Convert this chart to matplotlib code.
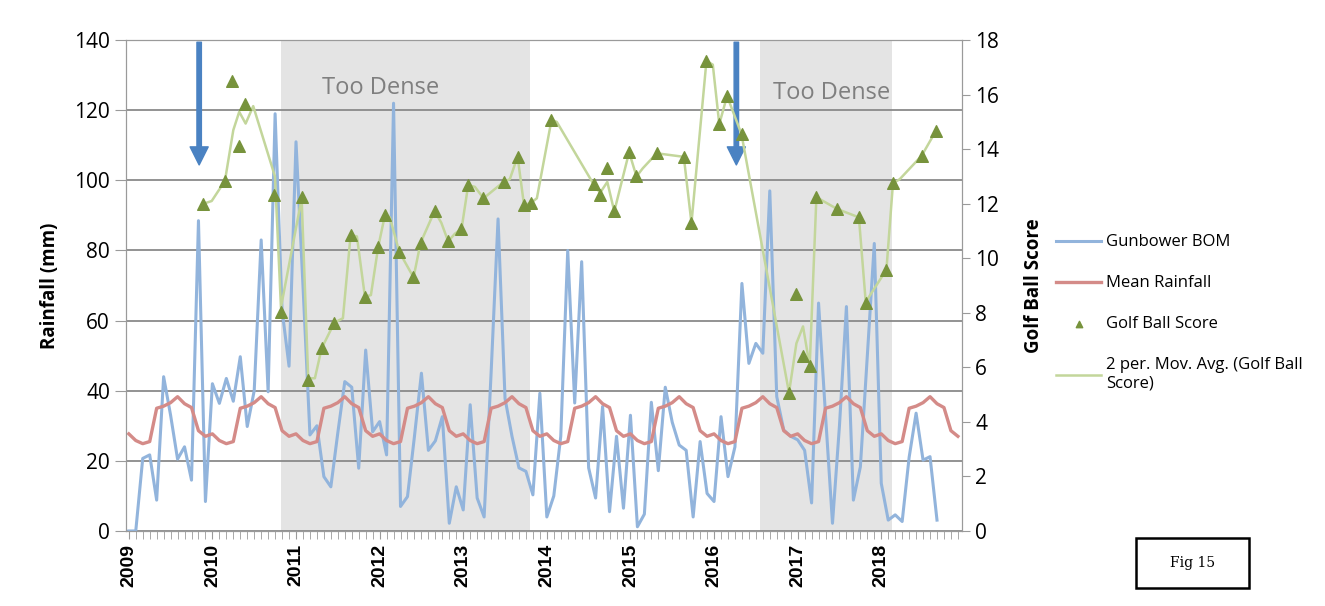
import numpy as np
import matplotlib.pyplot as plt
from matplotlib.patches import Rectangle

plt.rcParams['font.family'] = ['Open Sans', 'DejaVu Sans']

# x positions are months since Jan 2009 (0 = Jan 2009)
years = [str(y) for y in range(2009, 2019)]

# monthly rainfall, Gunbower BOM (mm), Jan 2009 .. Sep 2018
gunbower_bom = [
    0, 0, 20.7, 21.7, 8.8, 44, 33, 20.5, 24, 14.5, 88.5, 8.4,
    42, 36.4, 43.5, 37, 49.7, 29.8, 40, 83, 39.7, 119, 63, 47,
    111, 70, 27.4, 30, 15.5, 12.6, 28, 42.6, 41, 17.9, 51.6, 28.3,
    31.2, 21.7, 122, 7, 9.8, 27, 45, 23, 25.7, 32.6, 2.2, 12.6,
    6, 36, 9.4, 4, 45, 89, 37.8, 27, 18, 17, 10.3, 39.3,
    4, 10, 27, 80, 36.5, 76.8, 18, 9.4, 35.5, 5.5, 27, 6.5,
    33, 1.2, 4.8, 36.7, 17.2, 41, 31, 24.5, 23, 4, 25.5, 10.7,
    8.4, 32.6, 15.5, 24, 70.6, 47.8, 53.5, 50.7, 97, 38.3, 28.8, 27,
    26, 23, 8, 65, 33, 2.2, 30, 64, 8.8, 18.3, 50, 82,
    13.6, 3.1, 4.6, 2.7, 21, 33.6, 20.2, 21.2, 3.1,
]

# long-term mean rainfall by calendar month (mm), Jan..Dec
mean_rain_month = [27.7, 25.8, 24.9, 25.5, 35.0, 35.6, 36.6, 38.3, 36.3, 35.2, 28.6, 27.0]

# golf ball score survey dates (months since Jan 2009) and scores
golf_x = [10.7, 13.8, 14.85, 15.8, 16.75, 20.9, 21.85, 24.8, 25.75, 27.7,
          29.5, 31.85, 33.9, 35.8, 36.75, 38.8, 40.85, 41.9, 43.9, 45.85,
          47.75, 48.7, 50.9, 53.8, 55.8, 56.75, 57.7, 60.65, 66.7, 67.65,
          68.7, 69.7, 71.8, 72.85, 75.8, 79.65, 80.75, 82.9, 84.75, 85.85,
          87.95, 94.75, 95.8, 96.75, 97.75, 98.7, 101.65, 104.8, 105.75, 108.75,
          109.7, 113.8, 115.85]
golf_score = [12.0, 12.85, 16.5, 14.1, 15.67, 12.32, 8.04, 12.23, 5.53, 6.7,
              7.64, 10.85, 8.59, 10.42, 11.58, 10.24, 9.3, 10.57, 11.73, 10.62,
              11.08, 12.68, 12.2, 12.8, 13.73, 11.95, 12.03, 15.07, 12.72, 12.33,
              13.32, 11.72, 13.89, 13.0, 13.85, 13.72, 11.29, 17.24, 14.92, 15.95,
              14.56, 5.07, 8.69, 6.42, 6.05, 12.24, 11.81, 11.5, 8.37, 9.58,
              12.75, 13.76, 14.67]

# 2 period moving average trendline as drawn
golf_ma_x = [10.7, 11.9, 13.8, 15.0, 15.85, 16.77, 17.86, 20.98, 21.84, 24.81,
             25.75, 26.71, 27.68, 29.51, 30.73, 31.84, 32.74, 33.89, 34.75, 35.8,
             36.76, 37.47, 38.81, 40.87, 41.88, 43.89, 44.86, 45.84, 46.8, 47.76,
             48.71, 49.67, 50.92, 53.79, 54.69, 55.8, 56.73, 57.7, 58.57, 60.67,
             61.43, 66.7, 67.65, 68.68, 69.68, 71.81, 72.87, 73.77, 75.78, 79.66,
             80.76, 82.91, 83.82, 84.75, 85.87, 87.93, 94.76, 95.82, 96.77, 97.73,
             98.69, 101.65, 104.79, 105.77, 108.74, 109.68, 110.65, 113.8, 115.84]
golf_ma_y = [12.0, 12.1, 12.84, 14.7, 15.37, 14.94, 15.58, 13.0, 8.2, 12.2,
             5.6, 5.6, 6.7, 7.64, 7.8, 10.85, 10.8, 8.59, 8.65, 10.42,
             11.58, 11.5, 10.24, 9.3, 10.57, 11.73, 11.3, 10.62, 10.9, 11.08,
             12.68, 12.62, 12.2, 12.8, 12.9, 13.73, 11.95, 12.03, 12.2, 15.07,
             15.0, 12.72, 12.4, 12.8, 11.72, 13.89, 13.0, 13.3, 13.85, 13.72,
             11.29, 17.24, 17.1, 14.92, 15.95, 14.56, 5.07, 6.88, 7.5, 6.05,
             12.24, 11.81, 11.5, 8.4, 9.58, 12.75, 12.9, 13.76, 14.67]

dense_periods = [(21.8, 57.6), (90.6, 109.5)]
arrow_months = [10.1, 87.2]

months = np.arange(120)
mean_rain = np.tile(mean_rain_month, 10)

fig = plt.figure(figsize=(13.25, 6.06), dpi=100)
ax = fig.add_axes([0.0951, 0.1238, 0.631, 0.810])

for a, b in dense_periods:
    ax.axvspan(a, b, color='#e4e4e4', zorder=0, lw=0)

l1, = ax.plot(months[:len(gunbower_bom)], gunbower_bom, color='#92b4dc', lw=2.2,
              label='Gunbower BOM', zorder=3)
l2, = ax.plot(months, mean_rain, color='#d48b88', lw=2.4, label='Mean Rainfall', zorder=3)

ax.set_xlim(-0.4, 119.6)
ax.set_ylim(0, 140)
ax.set_yticks(range(0, 141, 20))
ax.yaxis.grid(True, color='#8a8a8a', lw=1.3)
ax.set_axisbelow(True)
ax.set_xticks(months[::12])
ax.set_xticklabels(years, rotation=90, fontsize=14, fontweight='bold',
                   family='Liberation Sans')
ax.set_xticks(months, minor=True)
ax.tick_params(axis='x', which='both', length=6, color='#9a9a9a', direction='out')
ax.tick_params(axis='y', length=8, color='#9a9a9a', labelsize=15)
ax.set_ylabel('Rainfall (mm)', fontsize=13.5, fontweight='bold', labelpad=10)
for s in ['left', 'bottom', 'top', 'right']:
    ax.spines[s].set_color('#9a9a9a')

for m in arrow_months:
    ax.annotate('', xy=(m, 104.4), xytext=(m, 139.4),
                arrowprops=dict(width=3.2, headwidth=13, headlength=13,
                                color='#4a82c2', shrink=0), zorder=6)

ax.text(36.1, 126.3, 'Too Dense', ha='center', va='center', fontsize=17, color='#7f7f7f')
ax.text(100.9, 124.9, 'Too Dense', ha='center', va='center', fontsize=17, color='#7f7f7f')

ax2 = ax.twinx()
ax2.set_ylim(0, 18)
ax2.set_yticks(range(0, 19, 2))
ax2.tick_params(axis='y', length=6, color='#9a9a9a', labelsize=15)
ax2.set_ylabel('Golf Ball Score', fontsize=13.5, fontweight='bold', labelpad=18)
for s in ['left', 'bottom', 'top', 'right']:
    ax2.spines[s].set_color('#9a9a9a')

l4, = ax2.plot(golf_ma_x, golf_ma_y, color='#c3d69b', lw=1.8,
               label='2 per. Mov. Avg. (Golf Ball\nScore)', zorder=4)
l3 = ax2.scatter(golf_x, golf_score, marker='^', s=70, color='#77933c',
                 label='Golf Ball Score', zorder=5)

fig.legend(handles=[l1, l2, l3, l4], loc='upper left', bbox_to_anchor=(0.786, 0.638),
           frameon=False, fontsize=12, handlelength=2.7, handletextpad=0.3,
           labelspacing=1.5, markerscale=0.55)

fig.patches.append(Rectangle((0.857, 0.0297), 0.086, 0.0825, transform=fig.transFigure,
                             fill=False, edgecolor='black', lw=1.8))
fig.text(0.9004, 0.071, 'Fig 15', ha='center', va='center', fontsize=10,
         family='DejaVu Serif')

fig.savefig('out.png', dpi=100)
